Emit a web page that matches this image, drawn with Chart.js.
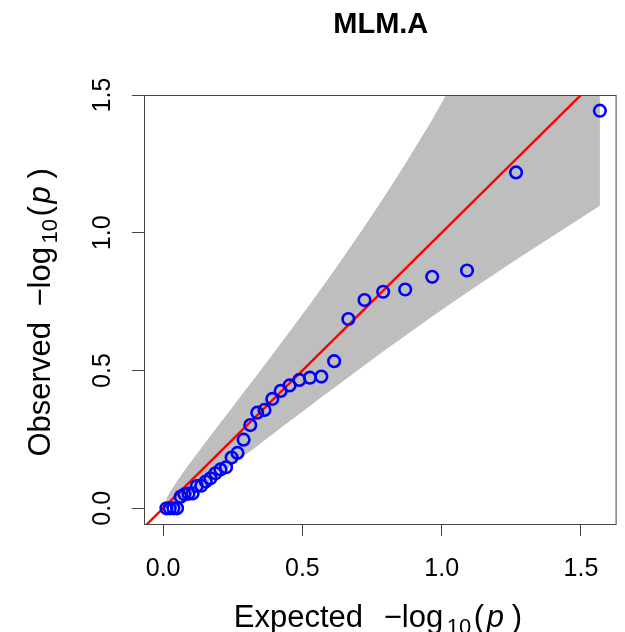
<!DOCTYPE html>
<html>
<head>
<meta charset="utf-8">
<title>MLM.A</title>
<script src="https://cdn.jsdelivr.net/npm/chart.js@4.4.1/dist/chart.umd.min.js"></script>
<style>
  html, body { margin: 0; padding: 0; background: #fff; }
</style>
</head>
<body>
<canvas id="qqChart" width="625" height="632"></canvas>
<script>
// expected -log10(p), largest first
var expected = [1.568, 1.267, 1.091, 0.966, 0.869, 0.790, 0.723, 0.665, 0.614, 0.568, 0.527, 0.489,
  0.454, 0.422, 0.392, 0.364, 0.338, 0.313, 0.289, 0.267, 0.246, 0.226, 0.206, 0.188,
  0.170, 0.153, 0.137, 0.121, 0.106, 0.091, 0.077, 0.063, 0.050, 0.037, 0.024, 0.012]

// observed -log10(p), same order
var observed = [1.443, 1.219, 0.863, 0.840, 0.794, 0.786, 0.756, 0.687, 0.534, 0.478, 0.474, 0.466,
  0.446, 0.426, 0.397, 0.357, 0.347, 0.302, 0.249, 0.201, 0.184, 0.149, 0.141, 0.127,
  0.109, 0.097, 0.082, 0.081, 0.054, 0.053, 0.051, 0.042, 0, 0, 0, 0]

// confidence band (upper / lower edge at each expected value)
var bandUpper = [2.846, 2.003, 1.636, 1.410, 1.250, 1.124, 1.023, 0.937, 0.863, 0.798, 0.741, 0.689,
  0.641, 0.598, 0.557, 0.520, 0.485, 0.452, 0.421, 0.391, 0.363, 0.337, 0.311, 0.287,
  0.263, 0.241, 0.219, 0.197, 0.177, 0.157, 0.137, 0.117, 0.098, 0.078, 0.058, 0.036]
var bandLower = [1.098, 0.902, 0.783, 0.696, 0.626, 0.569, 0.519, 0.476, 0.437, 0.403, 0.371, 0.342,
  0.316, 0.291, 0.268, 0.247, 0.226, 0.207, 0.189, 0.172, 0.156, 0.141, 0.126, 0.113,
  0.100, 0.087, 0.075, 0.064, 0.053, 0.043, 0.034, 0.025, 0.017, 0.010, 0.004, 0.001]

var xTicks = [0, 0.5, 1.0, 1.5]
var yTicks = [0, 0.5, 1.0, 1.5]
var diagonal = [-0.2, 1.8]   // y = x reference line ends

var FONT = '"Liberation Sans", Arial, sans-serif'

// build the datasets from the arrays above
var points = expected.map(function (x, i) { return { x: x, y: observed[i] } })
var bandTop = expected.map(function (x, i) { return { x: x, y: bandUpper[i] } }).reverse()
var bandBottom = expected.map(function (x, i) { return { x: x, y: bandLower[i] } })
var band = bandTop.concat(bandBottom)
var refLine = diagonal.map(function (v) { return { x: v, y: v } })

// draws "word  -log10(p)" starting at 0 on the baseline
function drawMathLabel(ctx, word) {
  var parts = [
    { t: word, at: 0, font: '31px ' + FONT, dy: 0 },
    { t: '\u2212', at: 150, font: '31px ' + FONT, dy: 0 },
    { t: 'log', at: 168, font: '31px ' + FONT, dy: 0 },
    { t: '10', at: 213, font: '22px ' + FONT, dy: 7 },
    { t: '(', at: 240, font: '31px ' + FONT, dy: 0 },
    { t: 'p', at: 253, font: 'italic 31px ' + FONT, dy: 0 },
    { t: ')', at: 278, font: '31px ' + FONT, dy: 0 }
  ]
  ctx.textAlign = 'left'
  ctx.textBaseline = 'alphabetic'
  parts.forEach(function (p) {
    ctx.font = p.font
    ctx.fillText(p.t, p.at, p.dy)
  })
}

var decorations = {
  id: 'decorations',
  afterDraw: function (chart) {
    var ctx = chart.ctx
    var area = chart.chartArea
    var yScale = chart.scales.y
    ctx.save()

    // plot frame
    ctx.strokeStyle = '#444'
    ctx.lineWidth = 1
    ctx.strokeRect(area.left - 0.5, area.top + 0.5, area.right - area.left, area.bottom - area.top)

    ctx.fillStyle = '#000'

    // title
    ctx.font = 'bold 29px ' + FONT
    ctx.textAlign = 'center'
    ctx.textBaseline = 'alphabetic'
    ctx.fillText('MLM.A', (area.left + area.right) / 2, 33)

    // y tick labels, turned like the axis
    ctx.font = '25px ' + FONT
    yTicks.forEach(function (v) {
      ctx.save()
      ctx.translate(110, yScale.getPixelForValue(v))
      ctx.rotate(-Math.PI / 2)
      ctx.textAlign = 'center'
      ctx.fillText(v.toFixed(1), 0, 0)
      ctx.restore()
    })

    // x axis title
    var cx = (area.left + area.right) / 2
    ctx.save()
    ctx.translate(cx - 147, 627)
    drawMathLabel(ctx, 'Expected')
    ctx.restore()

    // y axis title
    var cy = (area.top + area.bottom) / 2
    ctx.save()
    ctx.translate(50, cy + 147)
    ctx.rotate(-Math.PI / 2)
    drawMathLabel(ctx, 'Observed')
    ctx.restore()

    ctx.restore()
  }
}

var ctx = document.getElementById('qqChart').getContext('2d')
var chart = new Chart(ctx, {
  type: 'line',
  data: {
    datasets: [
      {
        label: 'observed',
        data: points,
        showLine: false,
        pointStyle: 'circle',
        pointRadius: 5.8,
        pointBorderWidth: 2.6,
        pointBorderColor: '#0000FF',
        pointBackgroundColor: 'rgba(0,0,0,0)',
        clip: false
      },
      {
        label: 'y = x',
        data: refLine,
        borderColor: '#FF0000',
        borderWidth: 2.4,
        pointRadius: 0,
        fill: false
      },
      {
        label: 'band',
        data: band,
        borderColor: 'rgba(0,0,0,0)',
        borderWidth: 0,
        backgroundColor: 'rgb(190,190,190)',
        pointRadius: 0,
        tension: 0,
        fill: 'shape'
      }
    ]
  },
  options: {
    responsive: false,
    animation: false,
    devicePixelRatio: 1,
    events: [],
    layout: { padding: { top: 95, right: 1, left: 0, bottom: 0 } },
    plugins: {
      legend: { display: false },
      tooltip: { enabled: false },
      title: { display: false }
    },
    scales: {
      x: {
        type: 'linear',
        min: -0.065,
        max: 1.628,
        afterBuildTicks: function (scale) {
          scale.ticks = xTicks.map(function (v) { return { value: v } })
        },
        afterFit: function (scale) { scale.height = 108 },
        grid: { drawOnChartArea: false, drawTicks: true, tickLength: 12, color: '#444', lineWidth: 1 },
        border: { display: false },
        ticks: {
          color: '#000',
          font: { family: FONT, size: 25 },
          padding: 18,
          maxRotation: 0,
          autoSkip: false,
          callback: function (v) { return Number(v).toFixed(1) }
        }
      },
      y: {
        type: 'linear',
        min: -0.057,
        max: 1.5,
        afterBuildTicks: function (scale) {
          scale.ticks = yTicks.map(function (v) { return { value: v } })
        },
        afterFit: function (scale) { scale.width = 145 },
        grid: { drawOnChartArea: false, drawTicks: true, tickLength: 13, color: '#444', lineWidth: 1 },
        border: { display: false },
        ticks: { display: false }
      }
    }
  },
  plugins: [decorations]
})
</script>
</body>
</html>
